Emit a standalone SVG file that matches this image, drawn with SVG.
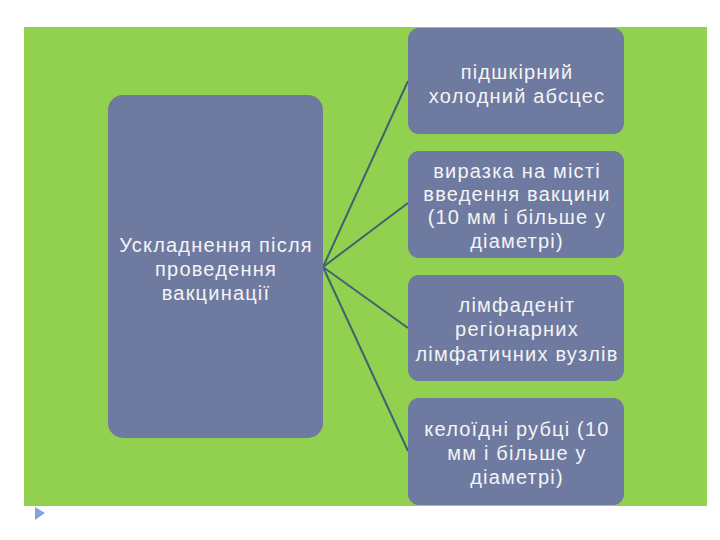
<svg xmlns="http://www.w3.org/2000/svg" width="720" height="540" viewBox="0 0 720 540">
<style>
.box{fill:#6e7aa0;}
.t{font-family:"Liberation Sans",Arial,sans-serif;font-size:20px;letter-spacing:1.2px;fill:#f4f4f4;text-anchor:middle;}
.c{stroke:#3d6570;stroke-width:2;fill:none;}
</style>
<rect x="0" y="0" width="720" height="540" fill="#ffffff"/>
<rect x="24" y="27" width="683" height="479" fill="#92d050"/>
<g id="connectors">
<line class="c" x1="323" y1="267" x2="408" y2="81"/>
<line class="c" x1="323" y1="267" x2="408" y2="203"/>
<line class="c" x1="323" y1="267" x2="408" y2="328"/>
<line class="c" x1="323" y1="267" x2="408" y2="451"/>
</g>
<g id="root">
<rect class="box" x="108" y="95" width="215" height="343" rx="15"/>
<text class="t"><tspan x="216" y="252">Ускладнення після</tspan><tspan x="216" y="276">проведення</tspan><tspan x="216" y="300">вакцинації</tspan></text>
</g>
<g id="n1">
<rect class="box" x="408" y="28" width="216" height="106" rx="11"/>
<text class="t"><tspan x="517" y="79">підшкірний</tspan><tspan x="517" y="103">холодний абсцес</tspan></text>
</g>
<g id="n2">
<rect class="box" x="408" y="151" width="216" height="107" rx="11"/>
<text class="t"><tspan x="517" y="178">виразка на місті</tspan><tspan x="517" y="201">введення вакцини</tspan><tspan x="517" y="224">(10 мм і більше у</tspan><tspan x="517" y="248">діаметрі)</tspan></text>
</g>
<g id="n3">
<rect class="box" x="408" y="275" width="216" height="106" rx="11"/>
<text class="t"><tspan x="517" y="312">лімфаденіт</tspan><tspan x="517" y="336">регіонарних</tspan><tspan x="517" y="361">лімфатичних вузлів</tspan></text>
</g>
<g id="n4">
<rect class="box" x="408" y="398" width="216" height="107" rx="11"/>
<text class="t"><tspan x="517" y="436">келоїдні рубці (10</tspan><tspan x="517" y="460">мм і більше у</tspan><tspan x="517" y="484">діаметрі)</tspan></text>
</g>
<polygon points="35,507 45,513 35,520" fill="#7ea6d8"/>
</svg>
